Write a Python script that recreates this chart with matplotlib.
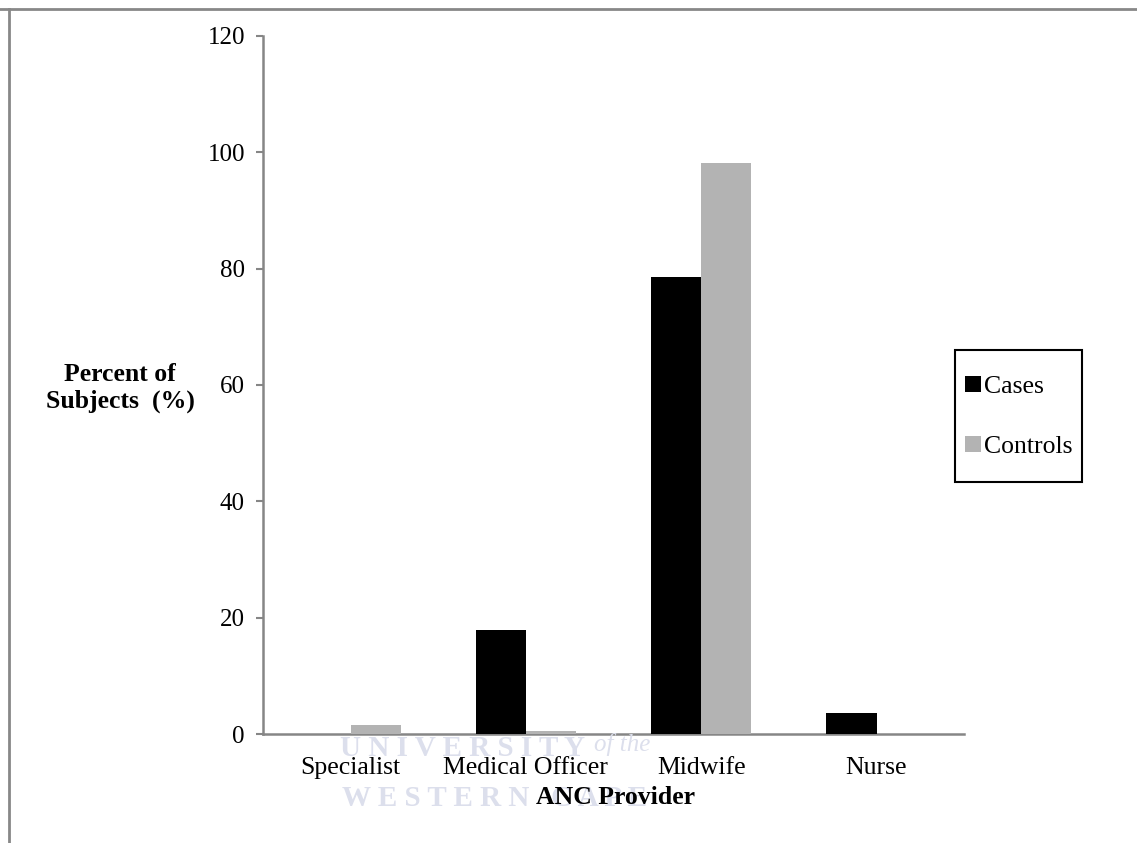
import matplotlib.pyplot as plt
import numpy as np
from matplotlib.lines import Line2D
from matplotlib.patches import Rectangle

# data
providers = ['Specialist', 'Medical Officer', 'Midwife', 'Nurse']
cases = [0, 17.9, 78.6, 3.6]
controls = [1.5, 0.5, 98.1, 0]

plt.rcParams['font.family'] = ['Liberation Serif', 'DejaVu Serif']

fig = plt.figure(figsize=(11.37, 8.43), dpi=100)
ax = fig.add_axes([0.2313, 0.1293, 0.848 - 0.2313, 0.9573 - 0.1293])

x = np.arange(len(providers))
w = 1 / 3.5
ax.bar(x - w / 2, cases, width=w, color='black', label='Cases', zorder=3)
ax.bar(x + w / 2, controls, width=w, color='#b3b3b3', label='Controls', zorder=3)

ax.set_xlim(-0.5, len(providers) - 0.5)
ax.set_ylim(0, 120)
ax.set_yticks(range(0, 121, 20))
ax.set_xticks(x)
ax.set_xticklabels(providers)
ax.tick_params(axis='x', length=0, pad=16.5, labelsize=18.5)
ax.tick_params(axis='y', length=5, width=1.5, color='#868686', pad=8, labelsize=18)

for s in ['top', 'right']:
    ax.spines[s].set_visible(False)
for s in ['left', 'bottom']:
    ax.spines[s].set_color('#868686')
    ax.spines[s].set_linewidth(1.8)

# axis titles
fig.text(120 / 1137, 1 - 388 / 843, 'Percent of\nSubjects  (%)', ha='center', va='center',
         fontsize=18.5, fontweight='bold', linespacing=1.25)
fig.text(616 / 1137, 1 - 797 / 843, 'ANC Provider', ha='center', va='center',
         fontsize=18.5, fontweight='bold', zorder=5)

# faint watermark text of the scanned page
wm = '#dcdfec'
fig.text(463 / 1137, 1 - 748 / 843, 'U N I V E R S I T Y', ha='center', va='center',
         fontsize=21, fontweight='bold', color=wm, zorder=0)
fig.text(622 / 1137, 1 - 745 / 843, 'of the', ha='center', va='center',
         fontsize=18, fontstyle='italic', color=wm, zorder=0)
fig.text(495 / 1137, 1 - 799 / 843, 'W E S T E R N   C A P E', ha='center', va='center',
         fontsize=21, fontweight='bold', color=wm, zorder=0)

# legend, frame drawn separately to match the box size
leg = fig.legend(loc='center', bbox_to_anchor=(1019 / 1137, 1 - 417 / 843),
                 fontsize=18.5, frameon=False,
                 handlelength=0.6, handleheight=0.6, handletextpad=0.15,
                 labelspacing=1.45, borderpad=0.3)
fig.add_artist(Rectangle((955 / 1137, 1 - 482 / 843), 127 / 1137, 132 / 843,
                         transform=fig.transFigure, fill=False, edgecolor='black', lw=1.5))

# outer border (top and left only visible)
fig.add_artist(Line2D([0, 1], [1 - 8.5 / 843] * 2, color='#888888', lw=2, transform=fig.transFigure))
fig.add_artist(Line2D([8.5 / 1137] * 2, [0, 1 - 8.5 / 843], color='#888888', lw=2, transform=fig.transFigure))

fig.savefig('out.png', dpi=100)
